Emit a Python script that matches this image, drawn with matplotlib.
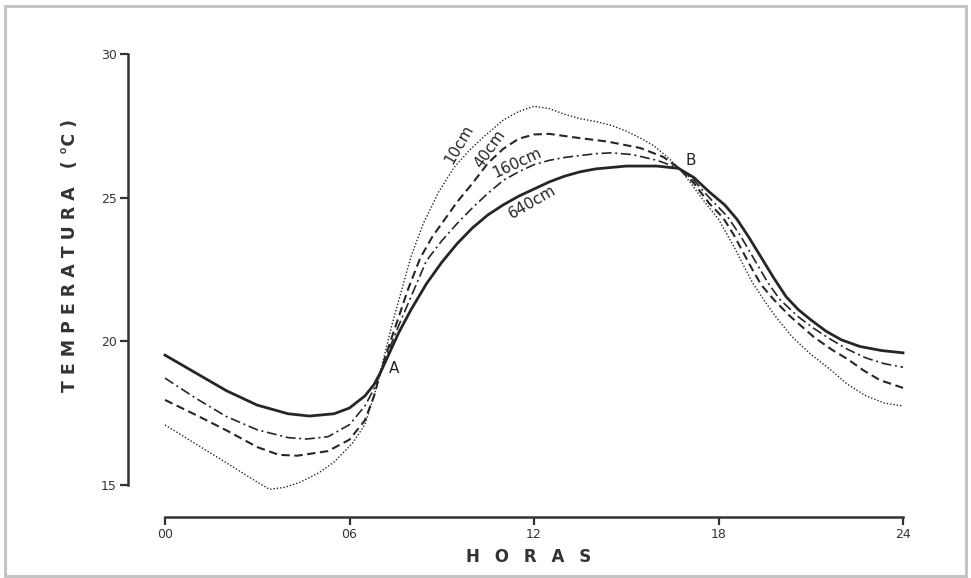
import matplotlib
matplotlib.use("Agg")
import matplotlib.pyplot as plt
from matplotlib.patches import Rectangle

# ---- data ----
hours_10 = [0, 1, 2, 3, 3.4, 3.9, 4.4, 5.0, 5.5, 6.1, 6.5, 6.8, 7.0, 7.2, 7.4, 7.7, 8.0,
            8.4, 8.9, 9.4, 9.9, 10.4, 11.0, 11.5, 12.0, 12.5, 13.0, 13.5, 14.0, 14.5, 15.0,
            15.5, 15.9, 16.3, 16.7, 17.1, 17.5, 18.0, 18.5, 19.1, 19.5, 19.9, 20.4, 21.0,
            21.6, 22.2, 22.8, 23.4, 24]
temp_10 = [17.09, 16.43, 15.77, 15.1, 14.85, 14.92, 15.1, 15.42, 15.8, 16.46, 17.1, 18.1,
           18.9, 19.8, 20.65, 21.8, 22.95, 24.1, 25.2, 26.05, 26.65, 27.15, 27.7, 28.0,
           28.18, 28.1, 27.9, 27.75, 27.65, 27.52, 27.32, 27.05, 26.8, 26.45, 26.05, 25.5,
           24.92, 24.25, 23.3, 22.05, 21.4, 20.8, 20.15, 19.55, 19.05, 18.5, 18.1, 17.85,
           17.75]

hours_40 = [0, 1, 2, 3, 3.7, 4.3, 5.3, 6.0, 6.5, 6.8, 7.0, 7.3, 7.6, 7.9, 8.3, 8.7, 9.0,
            9.5, 10.0, 10.5, 11.0, 11.5, 12.0, 12.5, 13.3, 14.4, 15.45, 16.2, 16.7, 17.2,
            17.7, 18.15, 18.5, 18.8, 19.1, 19.4, 19.8, 20.3, 21.1, 21.7, 22.2, 22.7, 23.25, 24]
temp_40 = [17.96, 17.44, 16.9, 16.32, 16.05, 16.02, 16.18, 16.58, 17.25, 18.1, 18.9, 19.9,
           20.85, 21.8, 22.9, 23.65, 24.1, 24.85, 25.5, 26.2, 26.7, 27.05, 27.2, 27.22,
           27.1, 26.95, 26.73, 26.42, 26.04, 25.5, 24.8, 24.3, 23.7, 23.1, 22.5, 21.95,
           21.45, 20.9, 20.15, 19.7, 19.38, 19.0, 18.65, 18.38]

hours_160 = [0, 1, 2, 3, 4, 4.6, 5.3, 6.0, 6.5, 6.8, 7.0, 7.3, 7.6, 8.0, 8.5, 9.0, 9.5,
             10.0, 10.5, 11.0, 11.5, 12.0, 12.5, 13.0, 14.0, 14.5, 15.2, 16.0, 16.7, 17.2,
             17.7, 18.3, 18.7, 19.0, 19.3, 19.6, 20.0, 20.6, 21.1, 21.6, 22.2, 22.8, 23.4, 24]
temp_160 = [18.72, 18.02, 17.38, 16.92, 16.65, 16.6, 16.68, 17.1, 17.75, 18.35, 18.9, 19.75,
            20.55, 21.55, 22.8, 23.5, 24.1, 24.65, 25.15, 25.6, 25.9, 26.15, 26.3, 26.4,
            26.53, 26.56, 26.5, 26.3, 26.03, 25.6, 25.0, 24.33, 23.7, 23.15, 22.6, 22.05,
            21.45, 20.85, 20.45, 20.1, 19.72, 19.42, 19.22, 19.1]

hours_640 = [0, 1, 2, 3, 4, 4.7, 5.5, 6.0, 6.5, 6.8, 7.0, 7.3, 7.6, 8.0, 8.5, 9.0, 9.5,
             10.0, 10.5, 11.0, 11.5, 12.0, 12.5, 13.0, 13.5, 14.0, 15.0, 16.0, 16.7, 17.2,
             17.7, 18.2, 18.6, 19.0, 19.4, 19.8, 20.2, 20.6, 21.0, 21.5, 22.0, 22.6, 23.3, 24]
temp_640 = [19.52, 18.9, 18.28, 17.78, 17.48, 17.4, 17.48, 17.68, 18.1, 18.5, 18.9, 19.6,
            20.3, 21.1, 22.0, 22.75, 23.4, 23.95, 24.4, 24.75, 25.05, 25.3, 25.55, 25.75,
            25.9, 26.0, 26.1, 26.1, 26.02, 25.7, 25.2, 24.75, 24.25, 23.6, 22.9, 22.2,
            21.55, 21.1, 20.75, 20.35, 20.05, 19.82, 19.68, 19.6]

x_ticks = [0, 6, 12, 18, 24]
x_labels = ["00", "06", "12", "18", "24"]
y_ticks = [15, 20, 25, 30]
y_labels = ["15", "20", "25", "30"]

series_labels = ["10cm", "40cm", "160cm", "640cm"]
label_pos = [(9.55, 26.85), (10.55, 26.68), (11.45, 26.2), (11.95, 24.85)]
label_rot = [60, 55, 25, 30]
point_labels = ["A", "B"]
point_pos = [(7.45, 19.05), (17.1, 26.3)]

# ---- figure ----
W, H = 971, 578
fig = plt.figure(figsize=(W / 100, H / 100), dpi=100)
fig.patch.set_facecolor("white")

x0, x1 = 165, 903
ybot, ytop = 517, 54
ax = fig.add_axes([x0 / W, 1 - ybot / H, (x1 - x0) / W, (ybot - ytop) / H])
ax.set_xlim(0, 24)
ymin = 15 - (ybot - 485) / ((485 - 54) / 15)
ax.set_ylim(ymin, 30)
ax.patch.set_alpha(0)

ink = "#262626"
ax.plot(hours_10, temp_10, color=ink, lw=1.0, linestyle=(0, (1.0, 1.4)), clip_on=False)
ax.plot(hours_40, temp_40, color=ink, lw=1.5, linestyle=(0, (4.0, 2.2)), clip_on=False)
ax.plot(hours_160, temp_160, color=ink, lw=1.2, linestyle=(0, (6, 2.2, 1.2, 2.2)), clip_on=False)
ax.plot(hours_640, temp_640, color=ink, lw=2.0, linestyle="-", clip_on=False)

for s, (hx, ty), r in zip(series_labels, label_pos, label_rot):
    ax.text(hx, ty, s, rotation=r, ha="center", va="center", fontsize=11,
            color=ink, rotation_mode="anchor")
for s, (hx, ty) in zip(point_labels, point_pos):
    ax.text(hx, ty, s, ha="center", va="center", fontsize=11, color=ink)

for side in ("top", "right"):
    ax.spines[side].set_visible(False)
ax.spines["left"].set_position(("outward", 37 * 0.72))
ax.spines["left"].set_bounds(15, 30)
ax.spines["bottom"].set_bounds(0, 24)
for side in ("left", "bottom"):
    ax.spines[side].set_linewidth(1.8)
    ax.spines[side].set_color("#333333")

ax.set_xticks(x_ticks)
ax.set_xticklabels(x_labels)
ax.set_yticks(y_ticks)
ax.set_yticklabels(y_labels)
ax.tick_params(axis="both", direction="out", length=6, width=1.6, color="#333333",
               labelsize=9, labelcolor="#333333", pad=2)

fig.text(70 / W, 1 - 256 / H, "T E M P E R A T U R A   ( °C )", rotation=90,
         ha="center", va="center", fontsize=12.5, fontweight="bold", color="#333333")
fig.text(529 / W, 1 - 557 / H, "H  \u2009O  \u2009R  \u2009A  \u2009S", ha="center",
         va="center", fontsize=12, fontweight="bold", color="#333333")

# scan frame
fig.patches.append(Rectangle((5 / W, 1 - 576 / H), 961 / W, 570 / H, transform=fig.transFigure,
                             fill=False, edgecolor="#c4c4c4", lw=2.2))

fig.savefig("out.png", dpi=100, facecolor="white")
